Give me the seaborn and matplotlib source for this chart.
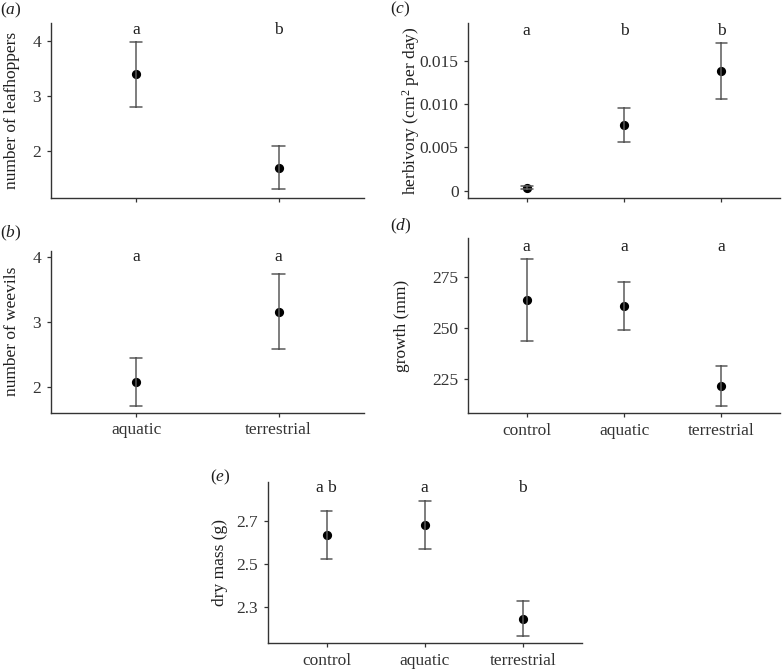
import pandas as pd
import matplotlib.pyplot as plt
import seaborn as sns

# values (mean, lower and upper end of the error bar)
groups2 = ["aquatic", "terrestrial"]
groups3 = ["control", "aquatic", "terrestrial"]

leaf_mean = [3.39, 1.69]
leaf_lo = [2.79, 1.30]
leaf_hi = [3.98, 2.09]
leaf_letters = ["a", "b"]

weevil_mean = [2.08, 3.15]
weevil_lo = [1.71, 2.58]
weevil_hi = [2.44, 3.74]
weevil_letters = ["a", "a"]

herb_mean = [0.00035, 0.0076, 0.01377]
herb_lo = [0.00015, 0.00556, 0.01058]
herb_hi = [0.00055, 0.00954, 0.01700]
herb_letters = ["a", "b", "b"]

growth_mean = [263.6, 260.6, 221.6]
growth_lo = [243.5, 248.7, 211.8]
growth_hi = [283.7, 272.5, 231.4]
growth_letters = ["a", "a", "a"]

mass_mean = [2.634, 2.682, 2.246]
mass_lo = [2.525, 2.572, 2.168]
mass_hi = [2.745, 2.792, 2.328]
mass_letters = ["a b", "a", "b"]

sns.set_theme(style="ticks")
plt.rcParams["font.family"] = ["Liberation Serif", "DejaVu Serif"]
plt.rcParams["mathtext.fontset"] = "custom"
plt.rcParams["mathtext.rm"] = "Liberation Serif"
plt.rcParams["mathtext.it"] = "Liberation Serif:italic"

FS = 12.5
DARK = "#333333"
TXT = "#1e1e1e"


def long_table(groups, mean, lo, hi):
    rows = []
    for g, m, l, h in zip(groups, mean, lo, hi):
        for v in (l, m, h):
            rows.append({"group": g, "value": v})
    return pd.DataFrame(rows)


def panel(rect, groups, mean, lo, hi, letters, letter_y, ylim, yticks,
          yticklabels, ylabel, label_x, show_xlabels):
    ax = fig.add_axes(rect)
    df = long_table(groups, mean, lo, hi)
    n = len(groups)
    sns.pointplot(data=df, x="group", y="value", order=groups,
                  estimator="median", errorbar=("pi", 100),
                  linestyle="none", color="black", markersize=4.6,
                  capsize=0.085 if n == 2 else 0.12,
                  err_kws={"color": "#5a5a5a", "linewidth": 1.1}, ax=ax)
    for i, t in enumerate(letters):
        ax.text(i, letter_y, t, ha="center", va="center", fontsize=FS,
                color=TXT)
    ax.set_xlim(-0.6, n - 0.4)
    ax.set_ylim(*ylim)
    ax.set_yticks(yticks)
    ax.set_yticklabels(yticklabels, fontsize=FS, color=TXT)
    ax.set_ylabel(ylabel, fontsize=FS, color=TXT)
    ax.yaxis.set_label_coords(label_x, 0.5)
    ax.set_xlabel("")
    ax.set_xticks(range(n))
    if show_xlabels:
        ax.set_xticklabels(groups, fontsize=FS, color=TXT)
    else:
        ax.set_xticklabels([""] * n)
    sns.despine(ax=ax)
    for s in ("left", "bottom"):
        ax.spines[s].set_color(DARK)
        ax.spines[s].set_linewidth(1.0)
    ax.tick_params(colors=DARK, length=3, width=0.9, pad=4)
    return ax


fig = plt.figure(figsize=(7.83, 6.70), dpi=100)

panel([0.0648, 0.704, 0.400, 0.262], groups2, leaf_mean, leaf_lo, leaf_hi,
      leaf_letters, 4.19, (1.135, 4.33), [2, 3, 4], ["2", "3", "4"],
      "number of leafhoppers", -0.098, False)
panel([0.0648, 0.384, 0.400, 0.2418], groups2, weevil_mean, weevil_lo,
      weevil_hi, weevil_letters, 4.0, (1.6, 4.1), [2, 3, 4],
      ["2", "3", "4"], "number of weevils", -0.098, True)
panel([0.598, 0.704, 0.398, 0.262], groups3, herb_mean, herb_lo, herb_hi,
      herb_letters, 0.01845, (-0.00088, 0.01937),
      [0, 0.005, 0.010, 0.015], ["0", "0.005", "0.010", "0.015"],
      r"herbivory (cm$^2$ per day)", -0.149, False)
panel([0.598, 0.3831, 0.398, 0.2616], groups3, growth_mean, growth_lo,
      growth_hi, growth_letters, 289.7, (208, 294), [225, 250, 275],
      ["225", "250", "275"], "growth (mm)", -0.186, True)
panel([0.3419, 0.0399, 0.401, 0.2412], groups3, mass_mean, mass_lo, mass_hi,
      mass_letters, 2.85, (2.134, 2.881), [2.3, 2.5, 2.7],
      ["2.3", "2.5", "2.7"], "dry mass (g)", -0.126, True)

# panel letters
for txt, x, y in [("a", 0, 10), ("b", 0, 233), ("c", 390, 9),
                  ("d", 390, 226), ("e", 210, 477)]:
    fig.text(x / 783, 1 - y / 670, r"($\it{" + txt + r"}$)", ha="left",
             va="center", fontsize=FS, color=TXT)

fig.savefig("out.png", dpi=100)
